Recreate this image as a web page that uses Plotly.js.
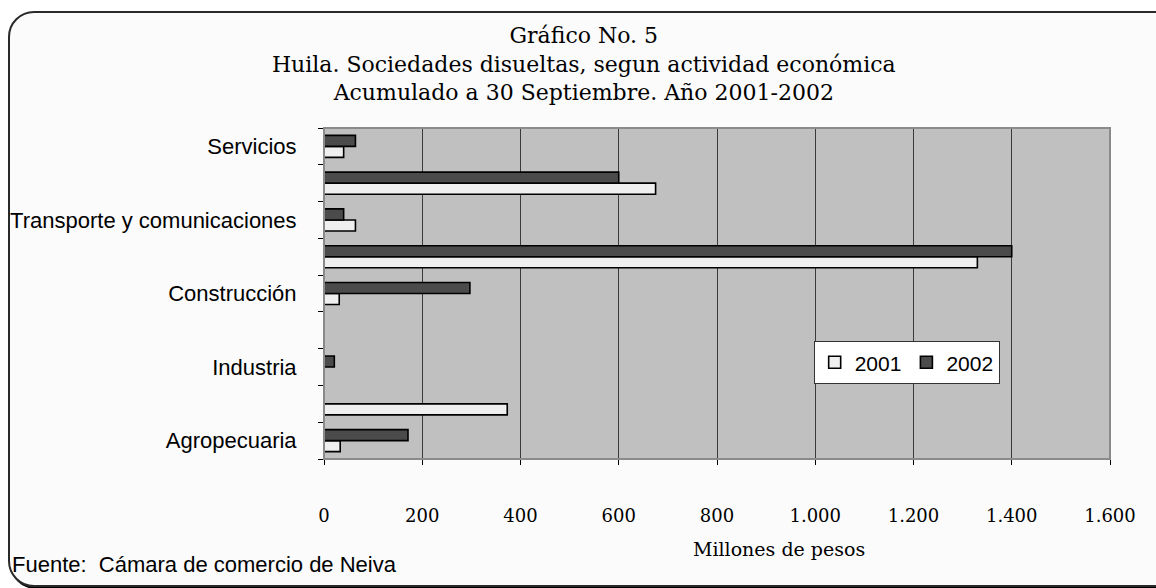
<!DOCTYPE html>
<html>
<head>
<meta charset="utf-8">
<script src="https://cdn.plot.ly/plotly-3.0.1.min.js"></script>
<style>
  html, body { margin: 0; padding: 0; background: #ffffff; }
  #wrap { position: relative; width: 1156px; height: 588px; overflow: hidden; }
  #frame { position: absolute; left: 8px; top: 11px; width: 1170px; height: 572px;
           border: 2px solid #2a2a2a; border-radius: 26px; background: #fbfbfb;
           box-shadow: 2px 2px 0 #000; }
  #chart { position: absolute; left: 0; top: 0; width: 1156px; height: 588px; }
</style>
</head>
<body>
<div id="wrap">
  <div id="frame"></div>
  <div id="chart"></div>
</div>
<script>
// Categories, bottom to top (blank slots are unlabeled categories in the original)
const categories = ['Agropecuaria', ' ', 'Industria', '  ', 'Construcción', '   ',
                    'Transporte y comunicaciones', '    ', 'Servicios'];
const values2001 = [33, 373, 0, 0, 31, 1330, 64, 675, 40];
const values2002 = [171, 0, 21, 0, 297, 1400, 40, 600, 64];
const seriesNames = ['2001', '2002'];
const xTickVals = [0, 200, 400, 600, 800, 1000, 1200, 1400, 1600];

const titleLines = ['Gráfico No. 5',
                    'Huila. Sociedades disueltas, segun actividad económica',
                    'Acumulado a 30 Septiembre. Año 2001-2002'];
const xAxisLabel = 'Millones de pesos';
const sourceText = 'Fuente:  Cámara de comercio de Neiva';

const traces = [
  { type: 'bar', orientation: 'h', name: seriesNames[0], y: categories, x: values2001,
    marker: { color: '#efefef', line: { color: '#000000', width: 1.6 } }, hoverinfo: 'x+name' },
  { type: 'bar', orientation: 'h', name: seriesNames[1], y: categories, x: values2002,
    marker: { color: '#4b4b4b', line: { color: '#000000', width: 1.6 } }, hoverinfo: 'x+name' }
];

const layout = {
  width: 1156, height: 588,
  paper_bgcolor: 'rgba(0,0,0,0)',
  plot_bgcolor: '#c0c0c0',
  margin: { l: 324, r: 46, t: 128, b: 129 },
  separators: ',.',
  barmode: 'group',
  bargap: 0.4,
  bargroupgap: 0,
  showlegend: true,
  legend: {
    orientation: 'h', x: 0.623, y: 0.356, xanchor: 'left', yanchor: 'top',
    bgcolor: '#ffffff', bordercolor: '#333333', borderwidth: 1,
    font: { family: 'Liberation Sans, Arial, sans-serif', size: 21, color: '#000' },
    traceorder: 'normal', itemwidth: 30
  },
  title: {
    text: titleLines.join('<br>'),
    x: 0.505, xanchor: 'center', xref: 'container',
    y: 1 - 43 / 588, yanchor: 'top', yref: 'container',
    font: { family: 'DejaVu Serif, serif', size: 22, color: '#000' }
  },
  xaxis: {
    range: [0, 1600], tickmode: 'array', tickvals: xTickVals, tickformat: ',d',
    showgrid: true, gridcolor: '#3a3a3a', gridwidth: 1,
    zeroline: false, showline: true, linecolor: '#000', linewidth: 1,
    ticks: 'outside', ticklen: 5, tickcolor: '#000',
    ticklabelstandoff: 35,
    tickfont: { family: 'DejaVu Serif, serif', size: 18, color: '#000' },
    fixedrange: true
  },
  yaxis: {
    type: 'category', categoryorder: 'array', categoryarray: categories,
    tickson: 'boundaries', ticks: 'outside', ticklen: 5, tickcolor: '#000',
    showgrid: false, zeroline: false, showline: true, linecolor: '#000', linewidth: 1,
    ticklabelstandoff: 22,
    tickfont: { family: 'Liberation Sans, Arial, sans-serif', size: 22, color: '#000' },
    fixedrange: true
  },
  shapes: [
    { type: 'rect', xref: 'paper', yref: 'paper', x0: 0, x1: 1, y0: 0, y1: 1,
      line: { color: '#8a8a8a', width: 2 }, layer: 'above' }
  ],
  annotations: [
    { text: xAxisLabel, xref: 'paper', yref: 'paper', x: (779 - 324) / 786, y: -(549 - 459) / 331,
      xanchor: 'center', yanchor: 'middle', showarrow: false,
      font: { family: 'DejaVu Serif, serif', size: 19, color: '#000' } },
    { text: sourceText, xref: 'paper', yref: 'paper', x: (10 - 324) / 786, y: -(564 - 459) / 331,
      xanchor: 'left', yanchor: 'middle', showarrow: false,
      font: { family: 'Liberation Sans, Arial, sans-serif', size: 22, color: '#000' } }
  ]
};

Plotly.newPlot('chart', traces, layout, { displayModeBar: false, staticPlot: true });
</script>
</body>
</html>
